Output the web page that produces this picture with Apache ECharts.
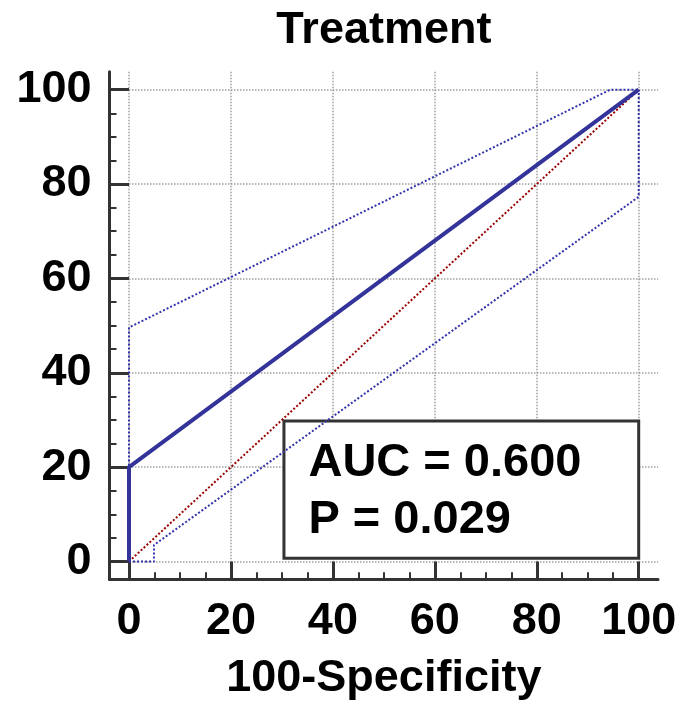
<!DOCTYPE html>
<html><head><meta charset="utf-8">
<script src="https://cdn.jsdelivr.net/npm/echarts@6/dist/echarts.min.js"></script>
<style>html,body{margin:0;padding:0;background:#fff}#c{width:682px;height:715px}</style>
</head><body><div id="c"></div>
<script>
// ---- data ----
const chartTitle = 'Treatment';
const xAxisTitle = '100-Specificity';
const tickValues = [0, 20, 40, 60, 80, 100];
// ROC curve (100-Specificity, Sensitivity)
const rocX = [0, 0, 100];
const rocY = [0, 20, 100];
// reference diagonal
const refX = [0, 100];
const refY = [0, 100];
// upper 95% confidence bound
const upperX = [0, 0, 94.4, 100];
const upperY = [0, 49.6, 100, 100];
// lower 95% confidence bound
const lowerX = [0, 4.9, 4.9, 100, 100];
const lowerY = [0, 0, 3.5, 77.3, 100];
// annotation
const aucValue = '0.600';
const pValue = '0.029';
const boxFrom = [30.4, 0.7];
const boxTo = [100, 29.8];

const zip = (xs, ys) => xs.map((x, i) => [x, ys[i]]);
const FONT = "'Liberation Sans', Arial, Helvetica, sans-serif";
const AX = '#333333';
const FS = 45;

const chart = echarts.init(document.getElementById('c'), null, { renderer: 'canvas' });

const hiddenAxis = {
  axisLine: { show: false }, axisTick: { show: false }, axisLabel: { show: false },
  splitLine: { show: false }, minorTick: { show: false }
};

const option = {
  backgroundColor: '#ffffff',
  animation: false,
  title: {
    text: chartTitle, left: 383.9, top: 8, textAlign: 'center', padding: 0,
    textStyle: { fontSize: FS, fontWeight: 'bold', color: '#000', fontFamily: FONT }
  },
  grid: [
    { left: 129, top: 89.7, width: 509.7, height: 471.8, outerBoundsMode: 'none', containLabel: false },
    { left: 129, top: 71.8, width: 529.1, height: 489.7, outerBoundsMode: 'none', containLabel: false },
    { left: 109.5, top: 71.7, width: 548.5, height: 507.6, outerBoundsMode: 'none', containLabel: false }
  ],
  xAxis: [
    {
      gridIndex: 0, type: 'value', min: 0, max: 100, interval: 20, position: 'bottom', offset: 17.8,
      axisLine: { show: false, onZero: false },
      axisTick: { show: true, inside: true, length: 17.8, lineStyle: { color: AX, width: 3 } },
      minorTick: { show: true, splitNumber: 4, length: 7, lineStyle: { color: AX, width: 2 } },
      splitLine: { show: false },
      axisLabel: { margin: 19.4, fontSize: FS, fontWeight: 'bold', color: '#000', fontFamily: FONT, customValues: tickValues },
      name: xAxisTitle, nameLocation: 'middle', nameGap: 76.4,
      nameTextStyle: { fontSize: FS, fontWeight: 'bold', color: '#000', fontFamily: FONT }
    },
    Object.assign({}, hiddenAxis, {
      gridIndex: 1, type: 'value', min: 0, max: 103.8, interval: 20,
      splitLine: { show: true, showMaxLine: false, lineStyle: { color: '#a0a0a0', width: 1.5, type: [1.5, 1.5] } }
    }),
    Object.assign({}, hiddenAxis, {
      gridIndex: 2, type: 'value', min: 0, max: 1, position: 'bottom',
      axisLine: { show: true, onZero: false, lineStyle: { color: AX, width: 3 } }
    })
  ],
  yAxis: [
    {
      gridIndex: 0, type: 'value', min: 0, max: 100, interval: 20, position: 'left', offset: 19.5,
      axisLine: { show: false, onZero: false },
      axisTick: { show: true, inside: true, length: 19.5, lineStyle: { color: AX, width: 3 } },
      minorTick: { show: true, splitNumber: 4, length: 7, lineStyle: { color: AX, width: 2 } },
      splitLine: { show: false },
      axisLabel: { margin: 18, fontSize: FS, fontWeight: 'bold', color: '#000', fontFamily: FONT, customValues: tickValues }
    },
    Object.assign({}, hiddenAxis, {
      gridIndex: 1, type: 'value', min: 0, max: 103.8, interval: 20,
      splitLine: { show: true, showMaxLine: false, lineStyle: { color: '#a0a0a0', width: 1.5, type: [1.5, 1.5] } }
    }),
    Object.assign({}, hiddenAxis, {
      gridIndex: 2, type: 'value', min: 0, max: 1, position: 'left',
      axisLine: { show: true, onZero: false, lineStyle: { color: AX, width: 3 } }
    })
  ],
  series: [
    {
      name: 'Reference', type: 'line', xAxisIndex: 0, yAxisIndex: 0, data: zip(refX, refY),
      symbol: 'none', clip: false, silent: true,
      lineStyle: { color: '#990000', width: 2, type: [2, 2] }
    },
    {
      name: 'Upper CI', type: 'line', xAxisIndex: 0, yAxisIndex: 0, data: zip(upperX, upperY),
      symbol: 'none', clip: false, silent: true,
      lineStyle: { color: '#3333aa', width: 2, type: [2, 2] }
    },
    {
      name: 'Lower CI', type: 'line', xAxisIndex: 0, yAxisIndex: 0, data: zip(lowerX, lowerY),
      symbol: 'none', clip: false, silent: true,
      lineStyle: { color: '#3333aa', width: 2, type: [2, 2] }
    },
    {
      name: 'ROC', type: 'line', xAxisIndex: 0, yAxisIndex: 0, data: zip(rocX, rocY),
      symbol: 'none', clip: false, silent: true,
      lineStyle: { color: '#333399', width: 4 }
    },
    {
      name: 'AUC box', type: 'line', xAxisIndex: 0, yAxisIndex: 0, data: [],
      symbol: 'none', clip: false, silent: true, z: 10,
      markArea: {
        silent: true,
        itemStyle: { color: '#ffffff', borderColor: AX, borderWidth: 3, opacity: 1 },
        label: {
          show: true, position: 'insideLeft', distance: 26, offset: [0, 2],
          formatter: 'AUC = ' + aucValue + '\nP = ' + pValue,
          fontSize: 47, fontWeight: 'bold', color: '#000', fontFamily: FONT, lineHeight: 56.8
        },
        data: [[{ coord: boxFrom }, { coord: boxTo }]]
      }
    }
  ]
};
chart.setOption(option);
</script>
</body></html>
